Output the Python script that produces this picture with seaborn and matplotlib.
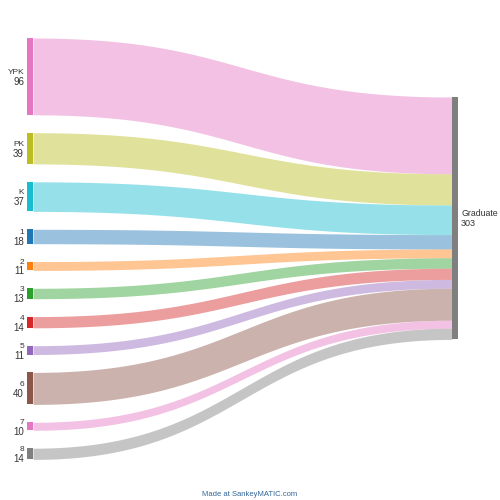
import numpy as np
import seaborn as sns
import matplotlib.pyplot as plt

sns.set_theme(style="white")
plt.rcParams['font.family'] = ['Liberation Sans', 'DejaVu Sans']

# data
sources = ['YPK', 'PK', 'K', '1', '2', '3', '4', '5', '6', '7', '8']
values = [96, 39, 37, 18, 11, 13, 14, 11, 40, 10, 14]
target = 'Graduate'
pal = sns.color_palette("tab10")
src_colors = [pal[6], pal[8], pal[9], pal[0], pal[1], pal[2], pal[3], pal[4], pal[5], pal[6], pal[7]]
target_color = pal[7]

# layout (pixel space)
scale = 0.8      # px per unit
gap = 17.9
left_top = 38
right_top = 97
xl0, xl1 = 27, 33
xr0, xr1 = 452, 458

fig = plt.figure(figsize=(5, 5), dpi=100)
ax = fig.add_axes([0, 0, 1, 1])
ax.set_xlim(0, 500)
ax.set_ylim(500, 0)
ax.axis('off')

t = np.linspace(0, 1, 200)
xm = (xl1 + xr0) / 2
bx = (1 - t) ** 3 * xl1 + 3 * t * (1 - t) ** 2 * xm + 3 * t ** 2 * (1 - t) * xm + t ** 3 * xr0
bs = 3 * t ** 2 * (1 - t) + t ** 3  # y blend factor

y_left = left_top
y_right = right_top
for name, v, c in zip(sources, values, src_colors):
    h = v * scale
    # flow
    top = y_left + (y_right - y_left) * bs
    ax.fill_between(bx, top, top + h, color=c, alpha=0.45, lw=0)
    # node
    ax.add_patch(plt.Rectangle((xl0, y_left), xl1 - xl0, h, color=c, lw=0))
    cy = y_left + h / 2
    ax.text(24, cy - 0.5, name, ha='right', va='bottom', fontsize=6, color='#333333')
    ax.text(24, cy + 0.5, str(v), ha='right', va='top', fontsize=7, color='#333333')
    y_left += h + gap
    y_right += h

total = sum(values)
ax.add_patch(plt.Rectangle((xr0, right_top), xr1 - xr0, total * scale, color=target_color, lw=0))
cy = right_top + total * scale / 2
ax.text(461, cy - 0.5, target, ha='left', va='bottom', fontsize=6.3, color='#333333')
ax.text(461, cy + 0.5, str(total), ha='left', va='top', fontsize=6.5, color='#333333')

ax.text(250, 494, 'Made at SankeyMATIC.com', ha='center', va='center', fontsize=5.5, color='#336699')

fig.savefig('out.png', dpi=100, facecolor='white')
